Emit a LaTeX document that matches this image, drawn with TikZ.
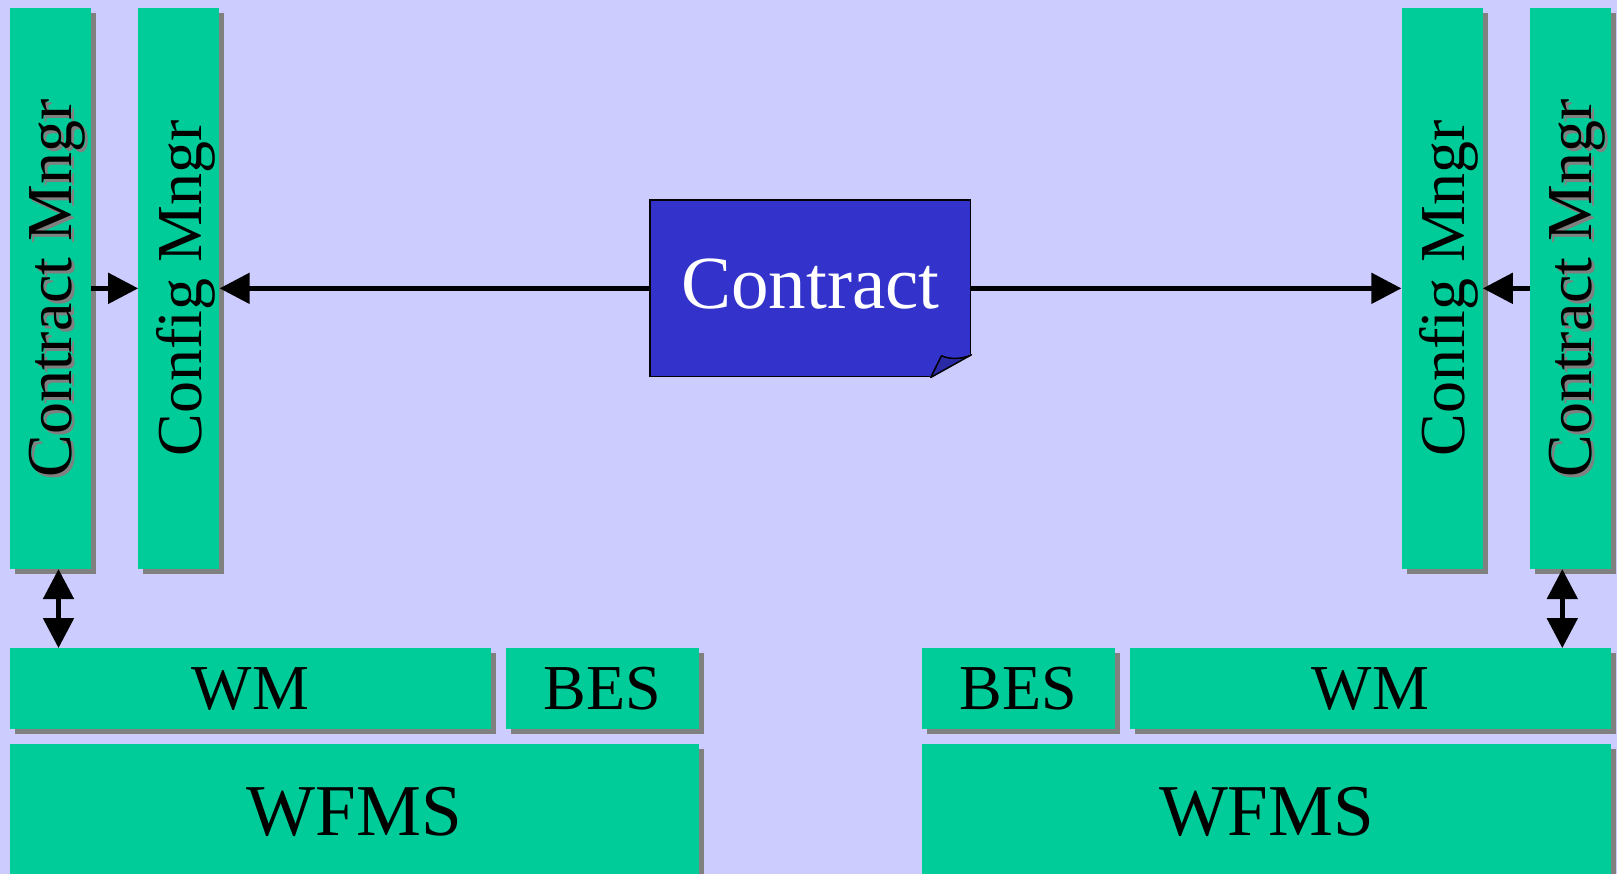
\documentclass[tikz,border=0pt]{standalone}
\usepackage{fontspec}
\setmainfont{Liberation Serif}
\usepackage{xcolor}
\usetikzlibrary{arrows.meta,
	shadows,
	calc,
	positioning}
\definecolor{bgc}{HTML}{CCCCFF}
\definecolor{grn}{HTML}{00CC99}
\definecolor{shd}{HTML}{808080}
\definecolor{ctrblue}{HTML}{3333CC}
\definecolor{flap}{HTML}{2A2AA6}
\tikzstyle{box}=[fill=grn, inner sep=0, drop shadow={shadow xshift=5pt, shadow yshift=-5pt, fill=shd, opacity=1}]
\tikzstyle{vbox}=[box, minimum width=81pt, minimum height=561pt]
\tikzstyle{hbox}=[box, minimum height=80.7pt, text depth=0pt, font=\fontsize{64}{64}\selectfont]
\tikzstyle{wbox}=[box, minimum height=133.7pt, text depth=0pt, font=\fontsize{73}{73}\selectfont]
\tikzstyle{vtxt}=[rotate=90, inner sep=0, text depth=0pt, font=\fontsize{64}{64}\selectfont]
\tikzstyle{vshd}=[vtxt, text=shd]
\tikzstyle{paper}=[draw, line width=1.5pt, fill=ctrblue, text=white, inner sep=0,
		minimum width=320.7pt, minimum height=176.7pt, text depth=10pt,
		font=\fontsize{75}{75}\selectfont]
\tikzstyle{arr}=[line width=5pt, -{Triangle[length=30pt,width=30pt]}]
\tikzstyle{dbl}=[line width=5pt, {Triangle[length=30pt,width=30pt]}-{Triangle[length=30pt,width=30pt]}]
\begin{document}
\begin{tikzpicture}[x=1pt, y=-1pt]
	\useasboundingbox (0,0) rectangle (1617,874);
	\fill[bgc] (0,0) rectangle (1617,874);
	\clip (0,0) rectangle (1617,874);

	\node[vbox] (cmL) at (50.5,288.35) {};
	\node[vshd] (cmLs) at ([shift={(3pt,-3pt)}]cmL.center) {Contract Mngr};
	\node[vtxt] (cmLt) at (cmL.center) {Contract Mngr};
	\node[vbox, right=47pt of cmL] (cfL) {};
	\node[vtxt] (cfLt) at (cfL.center) {Config Mngr};

	\node[vbox] (cmR) at (1570.5,288.35) {};
	\node[vshd] (cmRs) at ([shift={(3pt,-3pt)}]cmR.center) {Contract Mngr};
	\node[vtxt] (cmRt) at (cmR.center) {Contract Mngr};
	\node[vbox, left=47pt of cmR] (cfR) {};
	\node[vtxt] (cfRt) at (cfR.center) {Config Mngr};

	\node[paper] (ctr) at (810.35,288.35) {Contract};
	\filldraw[bgc, line width=2pt] ([xshift=-40.7pt]ctr.south east) -- (ctr.south east) -- ([yshift=22.7pt]ctr.south east) -- cycle;
	\filldraw[fill=flap, draw=black, line width=1.5pt, line join=round] ([xshift=-40.7pt]ctr.south east)
		-- ([xshift=-30pt,yshift=21.7pt]ctr.south east)
		.. controls ([xshift=-22pt,yshift=18pt]ctr.south east) and ([xshift=-10pt,yshift=18pt]ctr.south east) .. ([yshift=22.7pt]ctr.south east)
		-- cycle;

	\node[hbox, minimum width=480.5pt] (wmL) at (250.25,688.65) {WM};
	\node[hbox, minimum width=192.5pt, right=15.5pt of wmL] (besL) {BES};
	\node[wbox, minimum width=688.5pt] (wfL) at (354.25,811.15) {WFMS};

	\node[hbox, minimum width=481pt] (wmR) at (1370.5,688.65) {WM};
	\node[hbox, minimum width=193pt, left=15pt of wmR] (besR) {BES};
	\node[wbox, minimum width=689pt] (wfR) at (1266.5,811.15) {WFMS};

	\draw[arr] (cmL) -- (cfL);
	\draw[arr] (ctr) -- (cfL);
	\draw[arr] (ctr) -- (cfR);
	\draw[arr] (cmR) -- (cfR);
	\draw[dbl] ([xshift=8pt]cmL.south) -- ([xshift=8pt]cmL.south |- wmL.north);
	\draw[dbl] ([xshift=-8.2pt]cmR.south) -- ([xshift=-8.2pt]cmR.south |- wmR.north);
\end{tikzpicture}
\end{document}
